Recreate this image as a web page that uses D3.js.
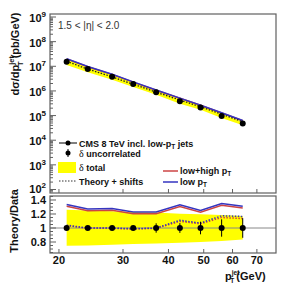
<!DOCTYPE html>
<html><head><meta charset="utf-8">
<script src="https://cdn.jsdelivr.net/npm/d3@7"></script>
<style>body{margin:0;background:#fff}svg{display:block}text{font-family:"Liberation Sans",Arial,sans-serif}</style>
</head><body>
<script>
// ---- data ----
const pt = [21, 24, 28, 32, 37, 43, 49, 56, 64];
const xsec = [1.52e7, 7.7e6, 3.74e6, 1.89e6, 8.9e5, 3.85e5, 2.13e5, 9.7e4, 4.8e4];
const ratioLow = [1.337, 1.27, 1.28, 1.23, 1.23, 1.33, 1.25, 1.35, 1.31];
const ratioLowHigh = [1.31, 1.245, 1.255, 1.205, 1.205, 1.305, 1.225, 1.325, 1.285];
const bandUp = [1.26, 1.25, 1.24, 1.23, 1.22, 1.205, 1.195, 1.185, 1.17];
const bandDown = [0.745, 0.75, 0.76, 0.77, 0.78, 0.79, 0.80, 0.815, 0.835];
const shiftLow = [1.04, 1.0, 1.0, 0.99, 1.0, 1.11, 1.07, 1.175, 1.165];
const shiftLowHigh = [1.035, 0.995, 0.995, 0.985, 0.995, 1.095, 1.06, 1.15, 1.135];
const uncorr = [0.01, 0.012, 0.015, 0.015, 0.067, 0.07, 0.09, 0.124, 0.14];
const xTicks = [20, 30, 40, 50, 60, 70];
const yTopExp = [2, 3, 4, 5, 6, 7, 8, 9];
const yRatioTicks = [0.8, 1, 1.2, 1.4];

const W = 291, H = 283;
const svg = d3.select("body").append("svg").attr("width", W).attr("height", H);
const L = 50, R = 276;
const topT = 14, topB = 193, botT = 196, botB = 253;
const frameCol = "#606060";

const x = d3.scaleLog().domain([18.9, 79]).range([L, R]);
const yT = d3.scaleLog().domain([Math.pow(10, 1.858), Math.pow(10, 9.122)]).range([topB, topT]);
const yR = d3.scaleLinear().domain([0.643, 1.457]).range([botB, botT]);

const idx = d3.range(pt.length);

const defs = svg.append("defs");
defs.append("clipPath").attr("id", "cT").append("rect").attr("x", L).attr("y", topT).attr("width", R - L).attr("height", topB - topT);
defs.append("clipPath").attr("id", "cB").append("rect").attr("x", L).attr("y", botT).attr("width", R - L).attr("height", botB - botT);

// ---------- top pane ----------
const gT = svg.append("g").attr("clip-path", "url(#cT)");
gT.append("path").datum(idx)
  .attr("d", d3.area().x(i => x(pt[i])).y0(i => yT(xsec[i] * bandDown[i])).y1(i => yT(xsec[i] * bandUp[i])))
  .attr("fill", "#ffff00");
gT.append("path").datum(idx).attr("d", d3.line().x(i => x(pt[i])).y(i => yT(xsec[i] * ratioLowHigh[i])))
  .attr("fill", "none").attr("stroke", "#cc4444").attr("stroke-width", 1.5);
gT.append("path").datum(idx).attr("d", d3.line().x(i => x(pt[i])).y(i => yT(xsec[i] * ratioLow[i])))
  .attr("fill", "none").attr("stroke", "#3535c0").attr("stroke-width", 1.5);
gT.append("path").datum(idx).attr("d", d3.line().x(i => x(pt[i])).y(i => yT(xsec[i] * shiftLow[i])))
  .attr("fill", "none").attr("stroke", "#222").attr("stroke-width", 1.3).attr("stroke-dasharray", "1.5,1.5");
gT.selectAll("circle").data(idx).enter().append("circle")
  .attr("cx", i => x(pt[i])).attr("cy", i => yT(xsec[i])).attr("r", 3).attr("fill", "#000");

// ---------- ratio pane ----------
const gB = svg.append("g").attr("clip-path", "url(#cB)");
gB.append("path").datum(idx)
  .attr("d", d3.area().x(i => x(pt[i])).y0(i => yR(bandDown[i])).y1(i => yR(bandUp[i])))
  .attr("fill", "#ffff00");
gB.append("line").attr("x1", L).attr("x2", R).attr("y1", yR(1)).attr("y2", yR(1)).attr("stroke", "#888").attr("stroke-width", 1);
gB.append("path").datum(idx).attr("d", d3.line().x(i => x(pt[i])).y(i => yR(ratioLowHigh[i])))
  .attr("fill", "none").attr("stroke", "#cc4444").attr("stroke-width", 1.5);
gB.append("path").datum(idx).attr("d", d3.line().x(i => x(pt[i])).y(i => yR(ratioLow[i])))
  .attr("fill", "none").attr("stroke", "#3535c0").attr("stroke-width", 1.5);
gB.append("path").datum(idx).attr("d", d3.line().x(i => x(pt[i])).y(i => yR(shiftLowHigh[i])))
  .attr("fill", "none").attr("stroke", "#cc4444").attr("stroke-width", 1.5).attr("stroke-dasharray", "1.5,1.5");
gB.append("path").datum(idx).attr("d", d3.line().x(i => x(pt[i])).y(i => yR(shiftLow[i])))
  .attr("fill", "none").attr("stroke", "#3535c0").attr("stroke-width", 1.5).attr("stroke-dasharray", "1.5,1.5");
gB.selectAll("line.err").data(idx).enter().append("line").attr("class", "err")
  .attr("x1", i => x(pt[i])).attr("x2", i => x(pt[i]))
  .attr("y1", i => yR(1 - uncorr[i])).attr("y2", i => yR(1 + uncorr[i]))
  .attr("stroke", "#000").attr("stroke-width", 1);
gB.selectAll("circle").data(idx).enter().append("circle")
  .attr("cx", i => x(pt[i])).attr("cy", yR(1)).attr("r", 3).attr("fill", "#000");

// ---------- frames & ticks ----------
function frame(t, b) {
  svg.append("rect").attr("x", L).attr("y", t).attr("width", R - L).attr("height", b - t)
    .attr("fill", "none").attr("stroke", frameCol).attr("stroke-width", 1.2);
}
frame(topT, topB); frame(botT, botB);

const tk = svg.append("g").attr("stroke", frameCol).attr("stroke-width", 1);
[topB, botB].forEach(yb => {
  xTicks.forEach(v => tk.append("line").attr("x1", x(v)).attr("x2", x(v)).attr("y1", yb).attr("y2", yb - 4));
});
yTopExp.forEach(e => {
  const v = Math.pow(10, e);
  tk.append("line").attr("x1", L).attr("x2", L + 6).attr("y1", yT(v)).attr("y2", yT(v));
  for (let m = 2; m <= 9; m++) {
    const mv = v * m;
    if (mv < yT.domain()[1]) tk.append("line").attr("x1", L).attr("x2", L + 3).attr("y1", yT(mv)).attr("y2", yT(mv));
  }
  if (e === 2) for (let m = 8; m <= 9; m++) tk.append("line").attr("x1", L).attr("x2", L + 3).attr("y1", yT(v / 10 * m)).attr("y2", yT(v / 10 * m));
});
d3.range(0.65, 1.451, 0.05).forEach(v => {
  const major = yRatioTicks.some(t => Math.abs(t - v) < 1e-6);
  tk.append("line").attr("x1", L).attr("x2", L + (major ? 6 : 3)).attr("y1", yR(v)).attr("y2", yR(v));
});

// ---------- tick labels ----------
const lab = svg.append("g").attr("font-weight", "bold").attr("fill", "#111");
xTicks.forEach(v => lab.append("text").attr("x", x(v)).attr("y", 263.5).attr("text-anchor", "middle").attr("font-size", 11).text(v));
yTopExp.forEach(e => {
  const t = lab.append("text").attr("x", 46).attr("y", yT(Math.pow(10, e)) + (e === 2 ? 3 : 5)).attr("text-anchor", "end").attr("font-size", 11);
  t.append("tspan").text("10");
  t.append("tspan").attr("font-size", 8).attr("dy", -5).text(e);
});
yRatioTicks.forEach(v => lab.append("text").attr("x", 46).attr("y", yR(v) + 4).attr("text-anchor", "end").attr("font-size", 11).text(d3.format("")(v)));

// ---------- axis titles ----------
const yt = svg.append("text").attr("transform", "translate(19,54) rotate(-90)").attr("text-anchor", "middle")
  .attr("font-size", 11).attr("font-weight", "bold").attr("fill", "#111");
yt.append("tspan").text("dσ/dp");
yt.append("tspan").attr("font-size", 7.5).attr("dy", -5).text("jet");
yt.append("tspan").attr("font-size", 7.5).attr("dx", -10).attr("dy", 9).text("T");
yt.append("tspan").attr("dy", -4).text(" (pb/GeV)");

svg.append("text").attr("transform", "translate(18,221) rotate(-90)").attr("text-anchor", "middle")
  .attr("font-size", 11).attr("font-weight", "bold").attr("fill", "#111").text("Theory/Data");

const xt = svg.append("text").attr("x", 225).attr("y", 279.5).attr("font-size", 11).attr("font-weight", "bold").attr("fill", "#111");
xt.append("tspan").text("p");
xt.append("tspan").attr("font-size", 6.5).attr("dy", -4.5).text("jet");
xt.append("tspan").attr("font-size", 6.5).attr("dx", -9).attr("dy", 7.5).text("T");
xt.append("tspan").attr("dx", 2).attr("dy", -3).text("(GeV)");

// ---------- eta label ----------
svg.append("text").attr("x", 58).attr("y", 29).attr("font-size", 10).attr("fill", "#333").text("1.5 < |η| < 2.0");

// ---------- legend ----------
const lg = svg.append("g").attr("font-size", 9).attr("font-weight", "bold").attr("fill", "#111");
lg.append("line").attr("x1", 59).attr("x2", 77).attr("y1", 143).attr("y2", 143).attr("stroke", "#000").attr("stroke-width", 1);
lg.append("circle").attr("cx", 68).attr("cy", 143).attr("r", 2.5).attr("fill", "#000");
const t1 = lg.append("text").attr("x", 79).attr("y", 146.5);
t1.append("tspan").text("CMS 8 TeV incl. low-p");
t1.append("tspan").attr("font-size", 6.5).attr("dy", 2).text("T");
t1.append("tspan").attr("dy", -2).text(" jets");
lg.append("line").attr("x1", 68).attr("x2", 68).attr("y1", 149).attr("y2", 157).attr("stroke", "#000");
lg.append("circle").attr("cx", 68).attr("cy", 153).attr("r", 2.5).attr("fill", "#000");
const t2 = lg.append("text").attr("x", 79).attr("y", 156.5);
t2.append("tspan").attr("font-family", "Liberation Serif, serif").attr("font-weight", "normal").attr("font-size", 10).text("δ");
t2.append("tspan").text(" uncorrelated");
lg.append("rect").attr("x", 58).attr("y", 162).attr("width", 18).attr("height", 11).attr("fill", "#ffff00");
const t3 = lg.append("text").attr("x", 79).attr("y", 170.5);
t3.append("tspan").attr("font-family", "Liberation Serif, serif").attr("font-weight", "normal").attr("font-size", 10).text("δ");
t3.append("tspan").text(" total");
lg.append("line").attr("x1", 59).attr("x2", 77).attr("y1", 181).attr("y2", 181).attr("stroke", "#333").attr("stroke-width", 1).attr("stroke-dasharray", "1.5,1.5");
lg.append("text").attr("x", 79).attr("y", 184.5).text("Theory + shifts");
lg.append("line").attr("x1", 163).attr("x2", 178).attr("y1", 171).attr("y2", 171).attr("stroke", "#cc4444").attr("stroke-width", 1.5);
const t5 = lg.append("text").attr("x", 180).attr("y", 174);
t5.append("tspan").text("low+high p");
t5.append("tspan").attr("font-size", 6.5).attr("dy", 2).text("T");
lg.append("line").attr("x1", 163).attr("x2", 178).attr("y1", 182).attr("y2", 182).attr("stroke", "#3535c0").attr("stroke-width", 1.5);
const t6 = lg.append("text").attr("x", 180).attr("y", 185);
t6.append("tspan").text("low p");
t6.append("tspan").attr("font-size", 6.5).attr("dy", 2).text("T");
</script>
</body></html>
